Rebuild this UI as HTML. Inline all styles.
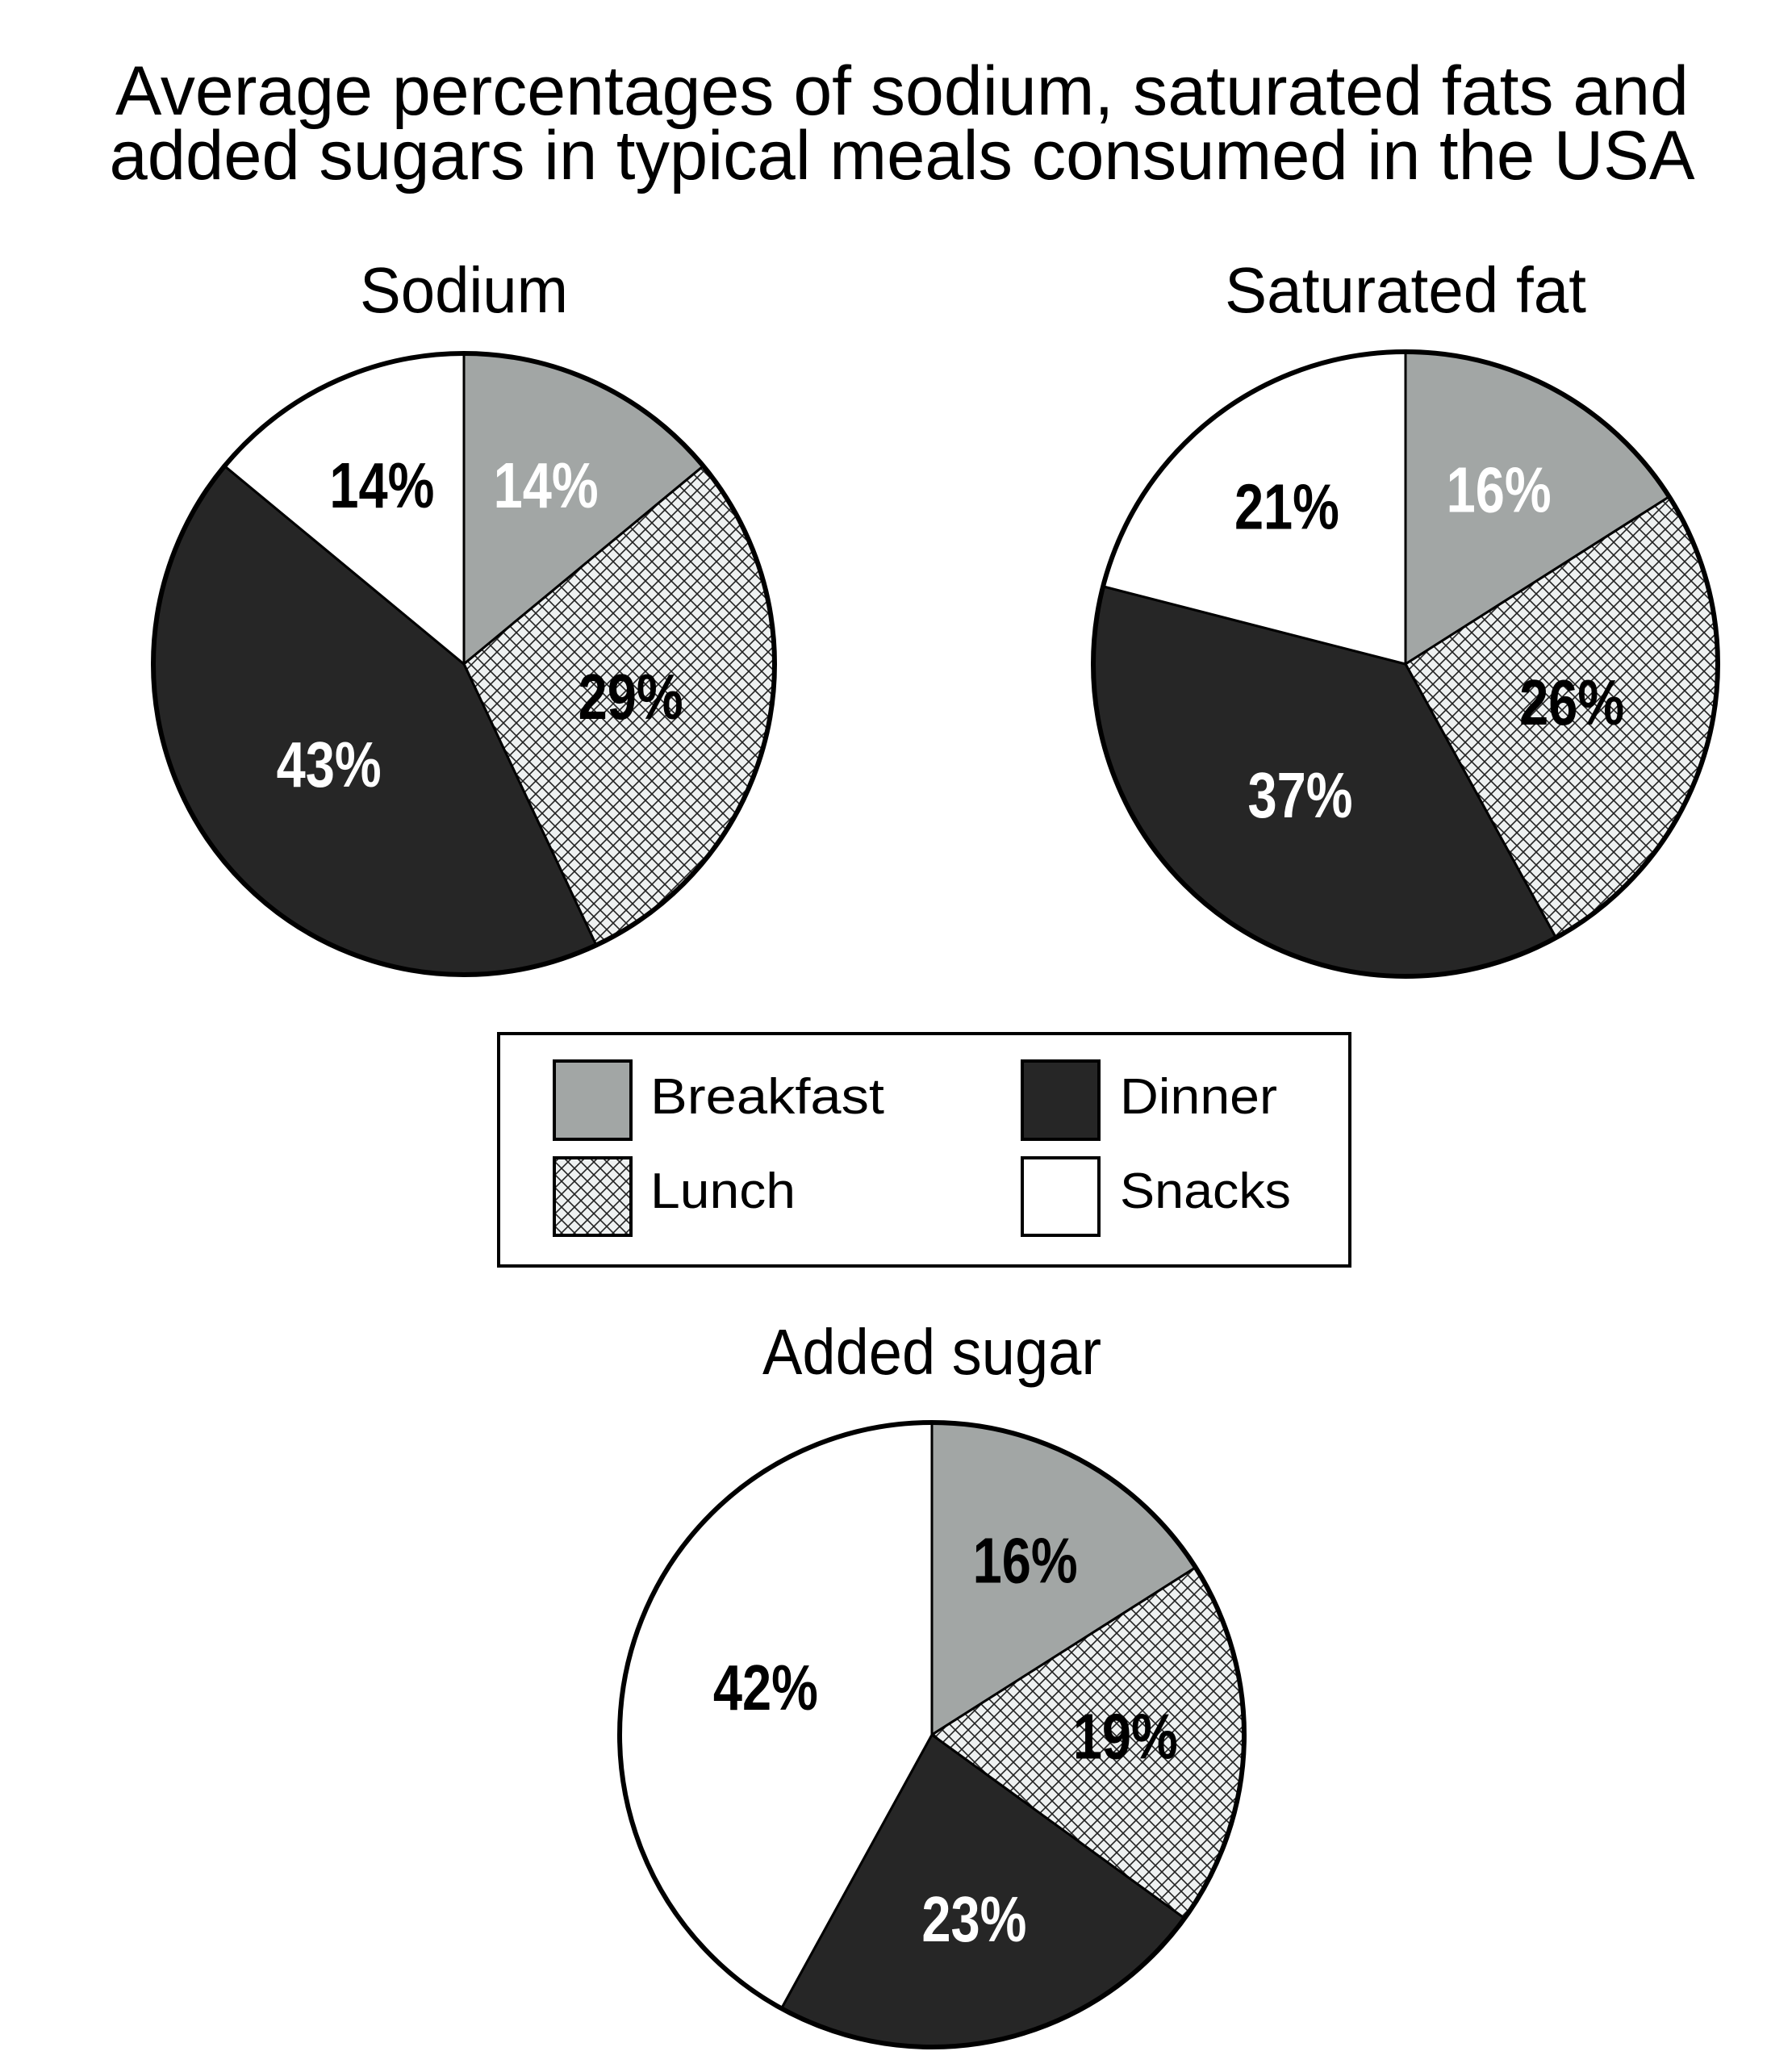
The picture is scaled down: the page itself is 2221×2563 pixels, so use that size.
<!DOCTYPE html>
<html><head><meta charset="utf-8"><style>
html,body{margin:0;padding:0;background:#fff;}
svg{display:block;}
text{font-family:"Liberation Sans",sans-serif;}
</style></head><body>
<svg id="chart" width="2221" height="2563" viewBox="0 0 2221 2563" xmlns="http://www.w3.org/2000/svg">
<defs>
<pattern id="hatch" patternUnits="userSpaceOnUse" width="16" height="16">
<rect width="16" height="16" fill="#eef1f1"/>
<path d="M0,0 L16,16 M16,0 L0,16" stroke="#222" stroke-width="1.6"/>
</pattern>
</defs>
<g>
<text x="1118" y="142" text-anchor="middle" font-size="86" textLength="1950" lengthAdjust="spacingAndGlyphs">Average percentages of sodium, saturated fats and</text>
<text x="1118" y="222" text-anchor="middle" font-size="86" textLength="1965" lengthAdjust="spacingAndGlyphs">added sugars in typical meals consumed in the USA</text>
</g>
<g id="pies"></g>
<g>
<rect x="618" y="1281" width="1055" height="288" fill="#fff" stroke="#000" stroke-width="4"/>
<g>
<rect x="687" y="1315" width="95" height="97" fill="#a2a6a5" stroke="#000" stroke-width="4"/>
<text x="806" y="1380" font-size="62" textLength="290" lengthAdjust="spacingAndGlyphs">Breakfast</text></g>
<g>
<rect x="687" y="1435" width="95" height="96" fill="url(#hatch)" stroke="#000" stroke-width="4"/>
<text x="806" y="1497" font-size="62" textLength="180" lengthAdjust="spacingAndGlyphs">Lunch</text></g>
<g>
<rect x="1267" y="1315" width="95" height="97" fill="#262626" stroke="#000" stroke-width="4"/>
<text x="1388" y="1380" font-size="62" textLength="195" lengthAdjust="spacingAndGlyphs">Dinner</text></g>
<g>
<rect x="1267" y="1435" width="95" height="96" fill="#fff" stroke="#000" stroke-width="4"/>
<text x="1388" y="1497" font-size="62" textLength="212" lengthAdjust="spacingAndGlyphs">Snacks</text></g>
</g>
</svg>
<script>
const categories = ["Breakfast","Lunch","Dinner","Snacks"];
const chartTitles = ["Sodium","Saturated fat","Added sugar"];
const sodiumValues = [14,29,43,14];
const satFatValues = [16,26,37,21];
const sugarValues = [16,19,23,42];
const fills = ["#a2a6a5","url(#hatch)","#262626","#fff"];
const svgNS = "http://www.w3.org/2000/svg";
const root = document.getElementById('pies');
const layouts = [
  {cx:575,cy:823,r:385,ty:387,tw:258,vals:sodiumValues,labelColors:["#fff","#000","#fff","#000"]},
  {cx:1742,cy:823,r:387,ty:387,tw:448,vals:satFatValues,labelColors:["#fff","#000","#fff","#000"]},
  {cx:1155,cy:2150,r:387,ty:1703,tw:420,vals:sugarValues,labelColors:["#000","#000","#fff","#000"]}
];
function pt(cx,cy,r,frac){const a=frac*2*Math.PI;return [cx+r*Math.sin(a),cy-r*Math.cos(a)];}
layouts.forEach((L,i)=>{
  const g=document.createElementNS(svgNS,'g');
  
  
  root.appendChild(g);
  const t=document.createElementNS(svgNS,'text');
  
  
  t.setAttribute('x',L.cx);t.setAttribute('y',L.ty);t.setAttribute('text-anchor','middle');
  t.setAttribute('font-size','80');t.setAttribute('textLength',L.tw);t.setAttribute('lengthAdjust','spacingAndGlyphs');
  t.textContent=chartTitles[i];g.appendChild(t);
  const total=L.vals.reduce((a,b)=>a+b,0);
  let acc=0;
  L.vals.forEach((v,j)=>{
    const f0=acc/total, f1=(acc+v)/total; acc+=v;
    const p0=pt(L.cx,L.cy,L.r,f0), p1=pt(L.cx,L.cy,L.r,f1);
    const large=(f1-f0)>0.5?1:0;
    const p=document.createElementNS(svgNS,'path');
    
    
    p.setAttribute('d',`M${L.cx},${L.cy} L${p0[0]},${p0[1]} A${L.r},${L.r} 0 ${large} 1 ${p1[0]},${p1[1]} Z`);
    p.setAttribute('fill',fills[j]);p.setAttribute('stroke','#000');p.setAttribute('stroke-width','3');
    g.appendChild(p);
  });
  const c=document.createElementNS(svgNS,'circle');
  
  
  c.setAttribute('cx',L.cx);c.setAttribute('cy',L.cy);c.setAttribute('r',L.r);
  c.setAttribute('fill','none');c.setAttribute('stroke','#000');c.setAttribute('stroke-width','6');
  g.appendChild(c);
  acc=0;
  L.vals.forEach((v,j)=>{
    const fm=(acc+v/2)/total; acc+=v;
    const rf = v<25?0.62:0.55;
    const q=pt(L.cx,L.cy,L.r*rf,fm);
    const lt=document.createElementNS(svgNS,'text');
    
    
    lt.setAttribute('x',q[0]);lt.setAttribute('y',q[1]+22);lt.setAttribute('text-anchor','middle');
    lt.setAttribute('font-size','80');lt.setAttribute('font-weight','bold');
    lt.setAttribute('textLength','130');lt.setAttribute('lengthAdjust','spacingAndGlyphs');
    lt.setAttribute('fill',L.labelColors[j]);
    lt.textContent=v+'%';g.appendChild(lt);
  });
});
</script>
</body></html>
